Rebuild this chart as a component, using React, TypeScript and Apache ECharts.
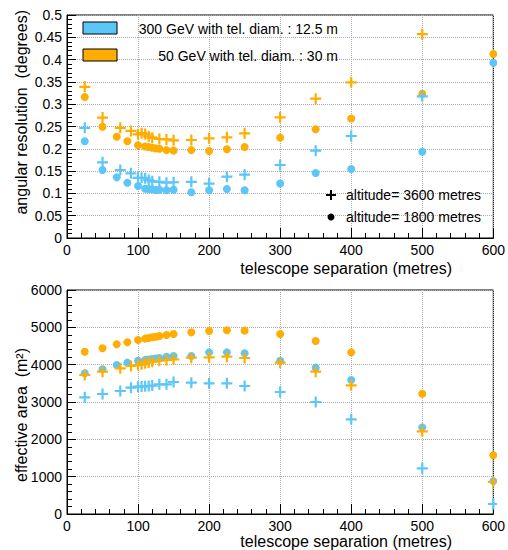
import React, { useEffect, useRef } from "react";
import * as echarts from "echarts";

// x positions (metres)
const circleX = [25, 50, 70, 85, 100, 110, 115, 120, 125, 130, 140, 150, 175, 200, 225, 250, 300, 350, 400, 500, 600];
const plusX = [25, 50, 75, 90, 100, 105, 110, 115, 120, 130, 140, 150, 175, 200, 225, 250, 300, 350, 400, 500, 600];

// angular resolution (degrees)
const resBlueCircle = [0.217, 0.1525, 0.136, 0.124, 0.1166, 0.1106, 0.11, 0.109, 0.1076, 0.108, 0.107, 0.108, 0.1024, 0.107, 0.11, 0.107, 0.122, 0.1457, 0.1547, 0.1935, 0.393];
const resOrangeCircle = [0.316, 0.2496, 0.227, 0.217, 0.208, 0.205, 0.204, 0.2025, 0.201, 0.2, 0.197, 0.196, 0.197, 0.195, 0.199, 0.204, 0.225, 0.244, 0.268, 0.3236, 0.4126];
const resBluePlus = [0.247, 0.1697, 0.1525, 0.145, 0.135, 0.135, 0.134, 0.13, 0.127, 0.126, 0.124, 0.125, 0.126, 0.122, 0.1375, 0.142, 0.1637, 0.1957, 0.2287, 0.3177, null];
const resOrangePlus = [0.339, 0.27, 0.247, 0.24, 0.2325, 0.235, 0.233, 0.228, 0.225, 0.222, 0.221, 0.219, 0.2197, 0.2235, 0.2257, 0.2347, 0.2706, 0.3124, 0.349, 0.457, null];

// effective area (m^2)
const areaBlueCircle = [3768, 3875, 3991, 4054, 4107, 4125, 4140, 4150, 4165, 4179, 4214, 4232, 4232, 4330, 4330, 4304, 4107, 3920, 3589, 2321, 880];
const areaOrangeCircle = [4348, 4438, 4545, 4600, 4661, 4697, 4715, 4733, 4750, 4768, 4795, 4821, 4866, 4902, 4920, 4911, 4821, 4634, 4330, 3223, 1572];
const areaBluePlus = [3125, 3214, 3295, 3384, 3411, 3415, 3420, 3429, 3440, 3473, 3473, 3536, 3518, 3500, 3500, 3429, 3268, 3000, 2536, 1223, 268];
const areaOrangePlus = [3723, 3812, 3902, 3964, 3991, 4010, 4036, 4058, 4080, 4107, 4125, 4143, 4188, 4197, 4214, 4179, 4054, 3812, 3446, 2214, 857];

const legendTexts = ["300 GeV with tel. diam. : 12.5 m", "50 GeV with tel. diam. : 30 m"];
const altitudeTexts = ["altitude= 3600 metres", "altitude= 1800 metres"];

const BLUE = "#5cc6f8";
const ORANGE = "#ffad00";
const FONT = "Liberation Sans, Arial, sans-serif";
const PLUS = "path://M4,0L6,0L6,4L10,4L10,6L6,6L6,10L4,10L4,6L0,6L0,4L4,4Z";

function pairs(xs: number[], ys: (number | null)[]) {
  const out: number[][] = [];
  xs.forEach((x, i) => {
    const y = ys[i];
    if (y !== null && y !== undefined) out.push([x, y]);
  });
  return out;
}

export default function App() {
  const ref = useRef<HTMLDivElement>(null);
  useEffect(() => {
    if (!ref.current) return;
    const chart = echarts.init(ref.current, null, { renderer: "svg" });
    const xAxisBase = (gridIndex: number) => ({
      type: "value",
      gridIndex,
      min: 0,
      max: 600,
      interval: 100,
      axisLine: { show: true, onZero: false, lineStyle: { color: "#000", width: 1 } },
      axisTick: { show: true, inside: true, length: 10, lineStyle: { color: "#000" } },
      minorTick: { show: true, splitNumber: 5, length: 5, lineStyle: { color: "#000" } },
      axisLabel: { fontSize: 14, color: "#000", fontFamily: FONT, margin: 5 },
      splitLine: { show: true, lineStyle: { type: "dotted", color: "#aaa", width: 1 } },
    });
    const yAxisBase = (gridIndex: number, max: number, interval: number, fmt: (v: number) => string) => ({
      type: "value",
      gridIndex,
      min: 0,
      max,
      interval,
      axisLine: { show: true, onZero: false, lineStyle: { color: "#000", width: 1 } },
      axisTick: { show: true, inside: true, length: 9, lineStyle: { color: "#000" } },
      minorTick: { show: true, splitNumber: 5, length: 5, lineStyle: { color: "#000" } },
      axisLabel: { fontSize: 14, color: "#000", fontFamily: FONT, margin: 5, formatter: fmt },
      splitLine: { show: true, lineStyle: { type: "dotted", color: "#aaa", width: 1 } },
    });
    const sc = (name: string, data: number[][], color: string, plus: boolean, idx: number) => ({
      type: "scatter",
      name,
      xAxisIndex: idx,
      yAxisIndex: idx,
      data,
      symbol: plus ? PLUS : "circle",
      symbolSize: plus ? 11 : 8,
      itemStyle: { color, opacity: 1 },
      z: plus ? 3 : 2,
    });
    chart.setOption({
      animation: false,
      grid: [
        { left: 67, top: 15, width: 429, height: 223, show: true, borderColor: "#000", borderWidth: 1, backgroundColor: "transparent" },
        { left: 67, top: 290, width: 429, height: 224, show: true, borderColor: "#000", borderWidth: 1, backgroundColor: "transparent" },
      ],
      xAxis: [xAxisBase(0), xAxisBase(1)],
      yAxis: [
        yAxisBase(0, 0.5, 0.05, (v: number) => String(+v.toFixed(2))),
        yAxisBase(1, 6000, 1000, (v: number) => String(Math.round(v))),
      ],
      series: [
        sc("res blue circle", pairs(circleX, resBlueCircle), BLUE, false, 0),
        sc("res orange circle", pairs(circleX, resOrangeCircle), ORANGE, false, 0),
        sc("res blue plus", pairs(plusX, resBluePlus), BLUE, true, 0),
        sc("res orange plus", pairs(plusX, resOrangePlus), ORANGE, true, 0),
        sc("area blue circle", pairs(circleX, areaBlueCircle), BLUE, false, 1),
        sc("area orange circle", pairs(circleX, areaOrangeCircle), ORANGE, false, 1),
        sc("area blue plus", pairs(plusX, areaBluePlus), BLUE, true, 1),
        sc("area orange plus", pairs(plusX, areaOrangePlus), ORANGE, true, 1),
      ],
      graphic: [
        // clip markers past the right frame
        { type: "rect", z: 100, shape: { x: 497, y: 10, width: 20, height: 232 }, style: { fill: "#fff" } },
        { type: "rect", z: 100, shape: { x: 497, y: 285, width: 20, height: 233 }, style: { fill: "#fff" } },
        // axis titles
        { type: "text", z: 101, x: 452, y: 268, style: { text: "telescope separation (metres)", fontSize: 16, fontFamily: FONT, fill: "#000", align: "right", verticalAlign: "middle" } },
        { type: "text", z: 101, x: 452, y: 541, style: { text: "telescope separation (metres)", fontSize: 16, fontFamily: FONT, fill: "#000", align: "right", verticalAlign: "middle" } },
        { type: "text", z: 101, x: 21, y: 10, rotation: Math.PI / 2, style: { text: "angular resolution  (degrees)", fontSize: 16, fontFamily: FONT, fill: "#000", align: "right", verticalAlign: "middle" } },
        { type: "text", z: 101, x: 21, y: 415, rotation: Math.PI / 2, style: { text: "effective area  (m²)", fontSize: 16, fontFamily: FONT, fill: "#000", align: "center", verticalAlign: "middle" } },
        // energy legend
        { type: "rect", z: 101, shape: { x: 83, y: 22, width: 34, height: 12 }, style: { fill: BLUE, stroke: "#000", lineWidth: 1 } },
        { type: "text", z: 101, x: 338, y: 29, style: { text: legendTexts[0], fontSize: 14, fontFamily: FONT, fill: "#000", align: "right", verticalAlign: "middle" } },
        { type: "rect", z: 101, shape: { x: 83, y: 49, width: 34, height: 12 }, style: { fill: ORANGE, stroke: "#000", lineWidth: 1 } },
        { type: "text", z: 101, x: 338, y: 56, style: { text: legendTexts[1], fontSize: 14, fontFamily: FONT, fill: "#000", align: "right", verticalAlign: "middle" } },
        // altitude legend
        { type: "rect", z: 101, shape: { x: 326, y: 194, width: 10, height: 2 }, style: { fill: "#000" } },
        { type: "rect", z: 101, shape: { x: 330, y: 190, width: 2, height: 10 }, style: { fill: "#000" } },
        { type: "text", z: 101, x: 346, y: 195, style: { text: altitudeTexts[0], fontSize: 14, fontFamily: FONT, fill: "#000", align: "left", verticalAlign: "middle" } },
        { type: "circle", z: 101, shape: { cx: 331, cy: 217, r: 3.5 }, style: { fill: "#000" } },
        { type: "text", z: 101, x: 346, y: 217, style: { text: altitudeTexts[1], fontSize: 14, fontFamily: FONT, fill: "#000", align: "left", verticalAlign: "middle" } },
      ],
    });
    return () => chart.dispose();
  }, []);
  return <div ref={ref} style={{ position: "fixed", left: 0, top: 0, width: 508, height: 550, background: "#fff" }} />;
}
